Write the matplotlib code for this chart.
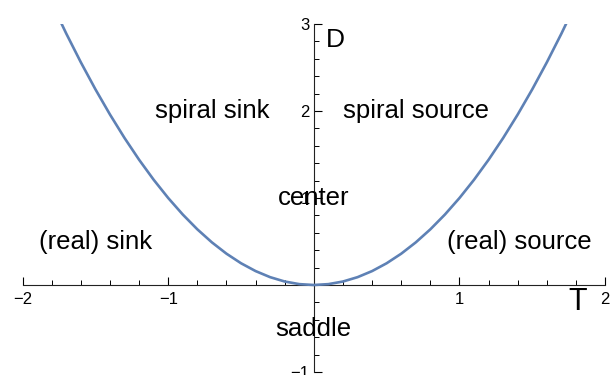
import numpy as np
import matplotlib
matplotlib.use("Agg")
import matplotlib.pyplot as plt

# points (D against T)
T_vals = [-1.8, -1.7, -1.6, -1.5, -1.4, -1.3, -1.2, -1.1, -1.0, -0.9, -0.8, -0.7,
          -0.6, -0.5, -0.4, -0.3, -0.2, -0.1, 0.0, 0.1, 0.2, 0.3, 0.4, 0.5, 0.6,
          0.7, 0.8, 0.9, 1.0, 1.1, 1.2, 1.3, 1.4, 1.5, 1.6, 1.7, 1.8]
D_vals = [3.24, 2.89, 2.56, 2.25, 1.96, 1.69, 1.44, 1.21, 1.0, 0.81, 0.64, 0.49,
          0.36, 0.25, 0.16, 0.09, 0.04, 0.01, 0.0, 0.01, 0.04, 0.09, 0.16, 0.25, 0.36,
          0.49, 0.64, 0.81, 1.0, 1.21, 1.44, 1.69, 1.96, 2.25, 2.56, 2.89, 3.24]

region_names = ["spiral sink", "spiral source", "center", "(real) sink", "(real) source", "saddle"]
region_T = [-0.7, 0.7, 0.0, -1.5, 1.41, 0.0]
region_D = [2.0, 2.0, 1.0, 0.49, 0.49, -0.51]

x_ticks = [-2, -1, 1, 2]
y_ticks = [-1, 1, 2, 3]

plt.rcParams['font.family'] = ['Liberation Sans', 'DejaVu Sans']

fig = plt.figure(figsize=(6.1, 3.75), dpi=100)
ax = fig.add_axes([0.037, 0.008, 0.955, 0.928])

ax.plot(T_vals, D_vals, color="#5E81B5", lw=1.9, clip_on=True, zorder=3)

for name, t, d in zip(region_names, region_T, region_D):
    ax.text(t, d, name, ha="center", va="center", fontsize=18.5, zorder=4)

ax.set_xlim(-2, 2)
ax.set_ylim(-1, 3)

ax.spines["left"].set_position(("data", 0))
ax.spines["bottom"].set_position(("data", 0))
ax.spines["top"].set_visible(False)
ax.spines["right"].set_visible(False)
for s in ["left", "bottom"]:
    ax.spines[s].set_linewidth(0.8)
    ax.spines[s].set_color("#222222")

ax.set_xticks(x_ticks)
ax.set_xticklabels(["\u22122", "\u22121", "1", "2"])
ax.set_yticks(y_ticks)
ax.set_yticklabels(["\u22121", "1", "2", "3"])
ax.set_xticks(np.arange(-2, 2.01, 0.2), minor=True)
ax.set_yticks(np.arange(-1, 3.01, 0.2), minor=True)
ax.tick_params(which="major", direction="in", length=6, width=0.8, labelsize=12)
ax.tick_params(which="minor", direction="in", length=3.5, width=0.7)
ax.tick_params(axis="x", which="major", pad=5)
ax.tick_params(axis="y", which="major", pad=3)

ax.text(1.81, -0.2, "T", ha="center", va="center", fontsize=22)
ax.text(0.15, 2.82, "D", ha="center", va="center", fontsize=19)

fig.savefig("out.png", dpi=100)
